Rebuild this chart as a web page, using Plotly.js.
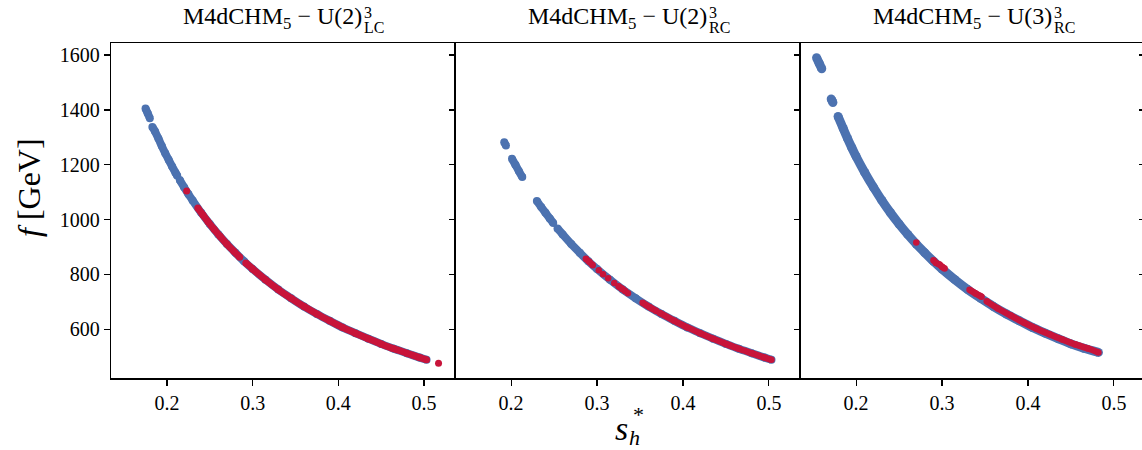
<!DOCTYPE html>
<html><head><meta charset="utf-8">
<script src="https://cdn.plot.ly/plotly-3.0.1.min.js"></script>
<style>html,body{margin:0;padding:0;overflow:hidden;background:#fff}#chart{width:1146px;height:450px}</style>
</head><body><div id="chart"></div>
<script>
// ---- data ----
const titleMain = ["M4dCHM<sub>5</sub> \u2212 U(2)", "M4dCHM<sub>5</sub> \u2212 U(2)", "M4dCHM<sub>5</sub> \u2212 U(3)"];
const titleSup = ["3", "3", "3"];
const titleSub = ["LC", "RC", "RC"];

const xTickVals = [0.2, 0.3, 0.4, 0.5];
const xTickText = ["0.2", "0.3", "0.4", "0.5"];
const yTickVals = [600, 800, 1000, 1200, 1400, 1600];
const yTickText = ["600", "800", "1000", "1200", "1400", "1600"];

// Panel 1: U(2)^3_LC
const p1BlueS = [0.175,0.1775,0.180,null,0.183,0.186,0.190,0.194,0.198,0.202,0.206,0.210,0.212,null,0.215,0.220,0.225,0.230,0.240,0.250,0.260,0.270,0.280,0.290,0.300,0.315,0.330,0.345,0.360,0.375,0.390,0.405,0.420,0.435,0.450,0.465,0.480,0.495,0.503];
const p1BlueF = [1405,1388,1370,null,1338,1322,1296,1268,1242,1218,1194,1171,1160,null,1144,1118,1093,1070,1025,984,946,911,879,848,820,781,745,713,683,656,631,607,586,566,547,529,513,497,489];
const p1RedS = [0.223,null,0.236,0.242,0.248,0.255,0.262,0.270,0.278,0.285,null,0.292,0.300,0.315,0.330,0.345,0.360,0.375,0.390,0.405,0.420,0.435,0.450,0.465,0.480,0.495,0.503,null,0.517];
const p1RedF = [1104,null,1042,1017,992,965,939,911,885,863,null,842,820,781,745,713,683,656,631,607,586,566,547,529,513,497,489,null,476];

// Panel 2: U(2)^3_RC
const p2BlueS = [0.192,0.194,null,0.201,0.205,0.209,0.213,null,0.230,0.235,0.240,0.245,0.249,null,0.254,0.260,0.270,0.280,0.290,0.300,0.315,0.330,0.345,0.360,0.375,0.390,0.405,0.420,0.435,0.450,0.465,0.480,0.495,0.503];
const p2BlueF = [1282,1270,null,1222,1200,1177,1155,null,1068,1046,1025,1004,988,null,968,946,911,879,848,820,781,745,713,683,656,631,607,586,566,547,529,513,497,489];
const p2RedS = [0.287,0.291,0.295,null,0.302,null,0.307,null,0.313,null,0.320,null,0.325,0.329,0.333,null,0.336,null,0.353,0.361,0.369,null,0.373,0.390,0.405,0.420,0.435,0.450,0.465,0.480,0.495,0.503];
const p2RedF = [857,846,834,null,815,null,801,null,786,null,769,null,757,748,739,null,732,null,697,681,667,null,660,631,607,586,566,547,529,513,497,489];

// Panel 3: U(3)^3_RC
const p3BlueS = [0.154,0.157,0.160,null,0.171,0.173,null,0.179,0.185,0.190,0.195,0.200,0.210,0.220,0.230,0.240,0.250,0.260,0.270,0.280,0.290,0.300,0.315,0.330,0.345,0.360,0.375,0.390,0.405,0.420,0.435,0.450,0.465,0.482];
const p3BlueF = [1590,1570,1550,null,1440,1427,null,1376,1332,1296,1262,1230,1172,1119,1070,1025,984,946,911,879,848,820,781,745,713,683,656,631,607,586,566,547,531,516];
const p3RedS = [0.270,null,0.290,0.293,0.297,0.300,0.303,null,0.332,0.339,0.346,null,0.352,0.365,0.380,0.395,0.410,0.425,0.440,0.455,0.470,0.482];
const p3RedF = [917,null,852,842,836,828,822,null,744,731,719,null,702,676,650,625,602,582,563,545,530,516];

// ---- styling ----
const W = 1146, H = 450;
const BLUE = "#4c72b0", RED = "#c8143a";
const FONT = "'Liberation Serif', 'Times New Roman', Times, serif";
const px = v => v / W, py = v => 1 - v / H;
const xRange = [0.1347, 0.5362], yRange = [421.5, 1645];
const yDom = [py(378.3), py(42.7)];
const xDoms = [[px(111), px(455)], [px(455), px(800)], [px(800), px(1145)]];

function band(s, f, xa, ya, color, w) {
  return {x: s, y: f, xaxis: xa, yaxis: ya, type: "scatter", mode: "lines+markers",
    line: {color: color, width: w, shape: "spline", smoothing: 0.6}, connectgaps: false,
    marker: {color: color, size: w, line: {width: 0}}, hoverinfo: "skip", showlegend: false};
}

const data = [
  band(p1BlueS, p1BlueF, "x", "y", BLUE, 8),
  band(p1RedS, p1RedF, "x", "y", RED, 7),
  band(p2BlueS, p2BlueF, "x2", "y2", BLUE, 8),
  band(p2RedS, p2RedF, "x2", "y2", RED, 6.5),
  band(p3BlueS, p3BlueF, "x3", "y3", BLUE, 9),
  band(p3RedS, p3RedF, "x3", "y3", RED, 6.5),
  {x: [], y: [], xaxis: "x", yaxis: "y4", type: "scatter", mode: "markers", showlegend: false}
];

const axCommon = {showgrid: false, zeroline: false, showline: true, linecolor: "#000", linewidth: 1.2,
  tickcolor: "#000", tickwidth: 1.2, ticklen: 6, tickfont: {family: FONT, size: 20, color: "#000"}};

function xAx(i) {
  return Object.assign({}, axCommon, {domain: xDoms[i], range: xRange, anchor: i === 0 ? "y" : "y" + (i + 1),
    mirror: true, ticks: "outside", tickmode: "array", tickvals: xTickVals, ticktext: xTickText});
}
const layout = {
  width: W, height: H, margin: {l: 0, r: 0, t: 0, b: 0, autoexpand: false},
  font: {family: FONT, color: "#000"},
  paper_bgcolor: "#fff", plot_bgcolor: "rgba(0,0,0,0)", showlegend: false,
  xaxis: xAx(0), xaxis2: xAx(1), xaxis3: xAx(2),
  yaxis: Object.assign({}, axCommon, {domain: yDom, range: yRange, anchor: "x", side: "left", mirror: true,
    ticks: "outside", tickmode: "array", tickvals: yTickVals, ticktext: yTickText}),
  yaxis4: Object.assign({}, axCommon, {range: yRange, overlaying: "y", anchor: "x", side: "right", showline: false,
    ticks: "inside", showticklabels: false, tickmode: "array", tickvals: yTickVals}),
  yaxis2: Object.assign({}, axCommon, {domain: yDom, range: yRange, anchor: "x2", side: "right", mirror: true,
    ticks: "inside", showticklabels: false, tickmode: "array", tickvals: yTickVals}),
  yaxis3: Object.assign({}, axCommon, {domain: yDom, range: yRange, anchor: "x3", side: "right", mirror: true,
    ticks: "inside", showticklabels: false, tickmode: "array", tickvals: yTickVals}),
  annotations: []
};

const titleSplit = [363, 708, 1053];
for (let i = 0; i < 3; i++) {
  layout.annotations.push({xref: "paper", yref: "paper", x: px(titleSplit[i]), y: py(18), xanchor: "right", yanchor: "middle",
    text: titleMain[i], showarrow: false, borderpad: 0, font: {family: FONT, size: 24, color: "#000"}});
  layout.annotations.push({xref: "paper", yref: "paper", x: px(titleSplit[i]), y: py(13), xanchor: "left", yanchor: "middle",
    text: titleSup[i], showarrow: false, borderpad: 0, font: {family: FONT, size: 16, color: "#000"}});
  layout.annotations.push({xref: "paper", yref: "paper", x: px(titleSplit[i]), y: py(27), xanchor: "left", yanchor: "middle",
    text: titleSub[i], showarrow: false, borderpad: 0, font: {family: FONT, size: 16, color: "#000"}});
}
// axis titles
layout.annotations.push({xref: "paper", yref: "paper", x: px(29), y: py(188), xanchor: "center", yanchor: "middle",
  textangle: -90, text: "<i>f</i> [GeV]", showarrow: false, font: {family: FONT, size: 32, color: "#000"}});
layout.annotations.push({xref: "paper", yref: "paper", x: px(629), y: py(428), xanchor: "right", yanchor: "middle",
  text: "<i>s</i>", showarrow: false, borderpad: 0, font: {family: FONT, size: 34, color: "#000"}});
layout.annotations.push({xref: "paper", yref: "paper", x: px(632), y: py(414), xanchor: "left", yanchor: "middle",
  text: "*", showarrow: false, borderpad: 0, font: {family: FONT, size: 22, color: "#000"}});
layout.annotations.push({xref: "paper", yref: "paper", x: px(628), y: py(437), xanchor: "left", yanchor: "middle",
  text: "<i>h</i>", showarrow: false, borderpad: 0, font: {family: FONT, size: 22, color: "#000"}});

Plotly.newPlot("chart", data, layout, {displayModeBar: false, staticPlot: true});
</script>
</body></html>
